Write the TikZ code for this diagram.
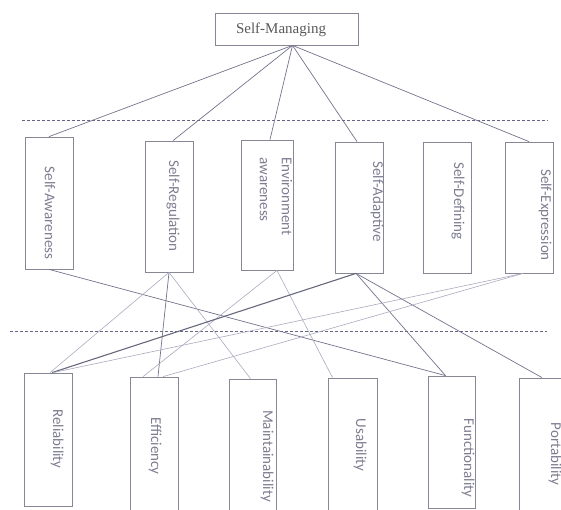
\documentclass[tikz,border=0pt]{standalone}
\usepackage{fontspec}
\setmainfont{Carlito}
\newfontfamily\topfont{Liberation Serif}
\definecolor{boxc}{RGB}{135,135,150}
\definecolor{txtc}{RGB}{125,125,145}
\definecolor{linec}{RGB}{115,115,140}
\definecolor{lightc}{RGB}{170,170,190}
\definecolor{dashc}{RGB}{100,100,135}
\begin{document}
\begin{tikzpicture}[x=1pt,y=-1pt,
  box/.style={draw=boxc, line width=0.8pt, inner sep=0pt, minimum width=48pt},
  lbl/.style={rotate=-90, text=txtc, font=\fontsize{15}{22}\selectfont, inner sep=0pt},
  conn/.style={draw=linec, line width=0.7pt},
  lconn/.style={draw=lightc, line width=0.6pt},
  dconn/.style={draw=linec!90!black, line width=1.1pt},
  sep/.style={draw=dashc, line width=0.7pt, dash pattern=on 3pt off 2pt}]
\useasboundingbox (0,0) rectangle (561,510);
% top
\node[box, minimum width=143pt, minimum height=32pt] (top) at (286.5,29) {};
\node[text=black!65, font=\topfont\fontsize{15}{18}\selectfont, inner sep=0pt] (topt) at (281,30) {Self-Managing};
% separators
\coordinate (d1a) at (22,120); \coordinate (d1b) at (548,120);
\coordinate (d2a) at (10,331); \coordinate (d2b) at (547,331);
\draw[sep] (d1a) -- (d1b);
\draw[sep] (d2a) -- (d2b);
% middle row
\node[box, minimum height=132pt] (sa) at (49,203) {};
\node[box, minimum height=131pt] (sr) at (169,206.5) {};
\node[box, minimum width=52pt, minimum height=130pt] (env) at (267,205) {};
\node[box, minimum height=131pt] (sad) at (359,207.5) {};
\node[box, minimum height=131pt] (sd) at (447,207.5) {};
\node[box, minimum height=131pt] (se) at (529,207.5) {};
\node[lbl] (sat) at (50,213) {Self-Awareness};
\node[lbl] (srt) at (173,206) {Self-Regulation};
\node[lbl, align=left] (envt) at (276,196.5) {Environment\\awareness};
\node[lbl] (sadt) at (377,201.5) {Self-Adaptive};
\node[lbl] (sdt) at (458,201) {Self-Defining};
\node[lbl] (set) at (545,215) {Self-Expression};
% bottom row
\node[box, minimum height=133pt] (rel) at (48,439.5) {};
\node[box, minimum height=133pt] (eff) at (154,443.5) {};
\node[box, minimum width=47pt, minimum height=132pt] (mai) at (252.5,445) {};
\node[box, minimum width=49pt, minimum height=132pt] (usa) at (352.5,444) {};
\node[box, minimum width=47pt, minimum height=132pt] (fun) at (451.5,442) {};
\node[box, minimum height=132pt] (por) at (543,444) {};
\node[lbl] (relt) at (57,439) {Reliability};
\node[lbl] (efft) at (155,446) {Efficiency};
\node[lbl] (mait) at (267,456) {Maintainability};
\node[lbl] (usat) at (360,445) {Usability};
\node[lbl] (funt) at (468,458) {Functionality};
\node[lbl] (port) at (555,454) {Portability};
% top connectors
\draw[conn] ([xshift=6pt]top.south) -- (sa.north);
\draw[conn] ([xshift=6pt]top.south) -- ([xshift=4pt]sr.north);
\draw[conn] ([xshift=6pt]top.south) -- ([xshift=3pt]env.north);
\draw[conn] ([xshift=6pt]top.south) -- ([xshift=-2pt]sad.north);
\draw[conn] ([xshift=6pt]top.south) -- (se.north);
% lower connectors
\draw[conn] (sa.south) -- ([xshift=-6pt]fun.north);
\draw[lconn] (sr.south) -- ([xshift=2pt]rel.north);
\draw[conn] (sr.south) -- ([xshift=4pt]eff.north);
\draw[lconn] (sr.south) -- ([xshift=-2pt]mai.north);
\draw[lconn] ([xshift=10pt]env.south) -- ([xshift=-11pt]eff.north);
\draw[lconn] ([xshift=10pt]env.south) -- ([xshift=-20pt]usa.north);
\draw[dconn] ([xshift=-3pt]sad.south) -- ([xshift=4pt]rel.north);
\draw[conn] ([xshift=-3pt]sad.south) -- ([xshift=-6pt]fun.north);
\draw[conn] ([xshift=-3pt]sad.south) -- ([xshift=-1pt]por.north);
\draw[lconn] ([xshift=-6pt]se.south) -- ([xshift=5pt]rel.north);
\draw[lconn] ([xshift=-6pt]se.south) -- ([xshift=9pt]eff.north);
\end{tikzpicture}
\end{document}
